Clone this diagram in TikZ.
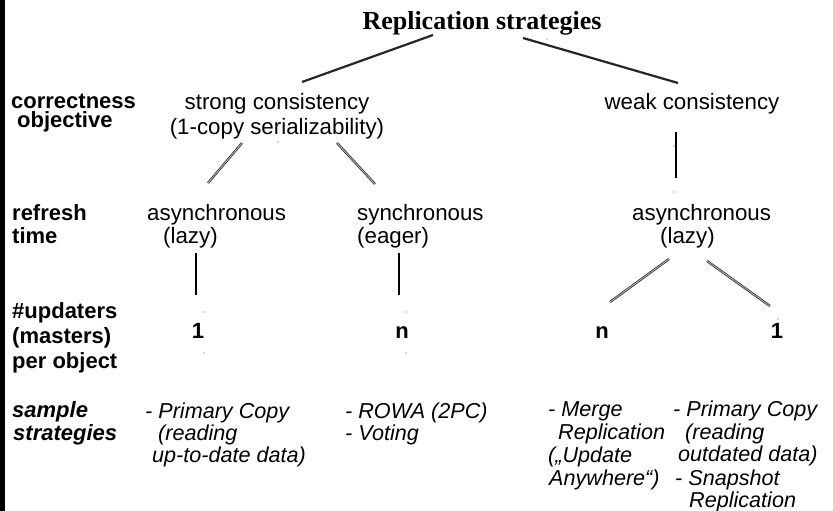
\documentclass[tikz,border=0pt]{standalone}
\usepackage{fontspec}
\setmainfont{Liberation Sans}
\newfontfamily\titlefont{Liberation Serif}
\begin{document}
\begin{tikzpicture}[x=1pt,y=-1pt,
  lbl/.style={font=\fontsize{22}{22}\selectfont\bfseries, anchor=base west, inner sep=0pt},
  lblit/.style={font=\fontsize{22}{22}\selectfont\bfseries\itshape, anchor=base west, inner sep=0pt},
  txt/.style={font=\fontsize{22.3}{22}\selectfont, anchor=base west, inner sep=0pt},
  ctxt/.style={font=\fontsize{22.3}{22}\selectfont, anchor=base, inner sep=0pt},
  num/.style={font=\fontsize{22}{22}\selectfont\bfseries, anchor=base, inner sep=0pt},
  smp/.style={font=\fontsize{21.6}{22}\selectfont\itshape, anchor=base west, inner sep=0pt},
  thick link/.style={draw=black!85, line width=2.2pt},
  dbl link/.style={draw=black!85, line width=0.7pt, double=black!30, double distance=0.9pt},
  bar link/.style={draw=black, line width=2pt},
  speck/.style={fill=black!70, draw=none}]
\useasboundingbox (0,0) rectangle (833,511);
\fill[white] (0,0) rectangle (833,511);
% left edge band
\fill[black] (0,0) rectangle (5,511);

% title
\node[font=\fontsize{26}{26}\selectfont\titlefont\bfseries, anchor=base, inner sep=0pt]
  (title) at (482,30) {Replication strategies};

% row labels
\node[lbl] (lc1) at (11,108) {correctness};
\node[lbl] (lc2) at (17,128) {objective};
\node[lbl] (lr1) at (12,220) {refresh};
\node[lbl] (lr2) at (12,243) {time};
\node[lbl] (lu1) at (12,318) {\#updaters};
\node[lbl] (lu2) at (12,343) {(masters)};
\node[lbl] (lu3) at (12,368) {per object};
\node[lblit] (ls1) at (12,417) {sample};
\node[lblit] (ls2) at (13,440) {strategies};

% level 1
\node[ctxt] (strong) at (277,110) {strong consistency};
\node[ctxt] (strong2) at (277,134) {(1-copy serializability)};
\node[ctxt] (weak) at (692,110) {weak consistency};

% level 2
\node[txt] (asyncA) at (147,220) {asynchronous};
\node[txt] (asyncA2) at (163,243) {(lazy)};
\node[txt] (sync) at (357,220) {synchronous};
\node[txt] (sync2) at (357,243) {(eager)};
\node[txt] (asyncB) at (632,220) {asynchronous};
\node[txt] (asyncB2) at (660,243) {(lazy)};

% level 3
\node[num] (oneA) at (198,338) {1};
\node[num] (nA) at (402,338) {n};
\node[num] (nB) at (602,338) {n};
\node[num] (oneB) at (777,338) {1};

% sample strategies
\node[smp] (s11) at (145,418) {- Primary Copy};
\node[smp] (s12) at (158,440) {(reading};
\node[smp] (s13) at (152,462) {up-to-date data)};
\node[smp] (s21) at (345,418) {- ROWA (2PC)};
\node[smp] (s22) at (345,440) {- Voting};
\node[smp] (s31) at (548,416) {- Merge};
\node[smp] (s32) at (558,439) {Replication};
\node[smp] (s33) at (548,462) {(„Update};
\node[smp] (s34) at (549,485) {Anywhere“)};
\node[smp] (s41) at (673,416) {- Primary Copy};
\node[smp] (s42) at (685,439) {(reading};
\node[smp] (s43) at (678,461) {outdated data)};
\node[smp] (s44) at (675,485) {- Snapshot};
\node[smp] (s45) at (689,507) {Replication};

% connector end points
\coordinate (title-l) at (433,35);
\coordinate (title-r) at (523,38);
\coordinate (strong-t) at (302,82);
\coordinate (weak-t) at (678,83);
\coordinate (strong-bl) at (242,143);
\coordinate (strong-br) at (337,143);
\coordinate (asyncA-t) at (208,183);
\coordinate (sync-t) at (375,184);
\coordinate (weak-b) at (676,132);
\coordinate (asyncB-t) at (676,178);
\coordinate (asyncA-b) at (196,253);
\coordinate (oneA-t) at (196,295);
\coordinate (sync-b) at (399,253);
\coordinate (nA-t) at (399,295);
\coordinate (asyncB-bl) at (669,259);
\coordinate (nB-t) at (610,302);
\coordinate (asyncB-br) at (707,261);
\coordinate (oneB-t) at (770,306);

% connectors
\draw[thick link] (title-l) -- (strong-t);
\draw[thick link] (title-r) -- (weak-t);
\draw[dbl link] (strong-bl) -- (asyncA-t);
\draw[dbl link] (strong-br) -- (sync-t);
\draw[bar link] (weak-b) -- (asyncB-t);
\draw[bar link] (asyncA-b) -- (oneA-t);
\draw[bar link] (sync-b) -- (nA-t);
\draw[dbl link] (asyncB-bl) -- (nB-t);
\draw[dbl link] (asyncB-br) -- (oneB-t);

% small specks
\foreach \p in {(278,142),(547,39),(674,146),(674,192),(204,312),(204,353),(406,312),(406,353),(778,319)}
  \fill[speck] \p circle (0.7);
\end{tikzpicture}
\end{document}
